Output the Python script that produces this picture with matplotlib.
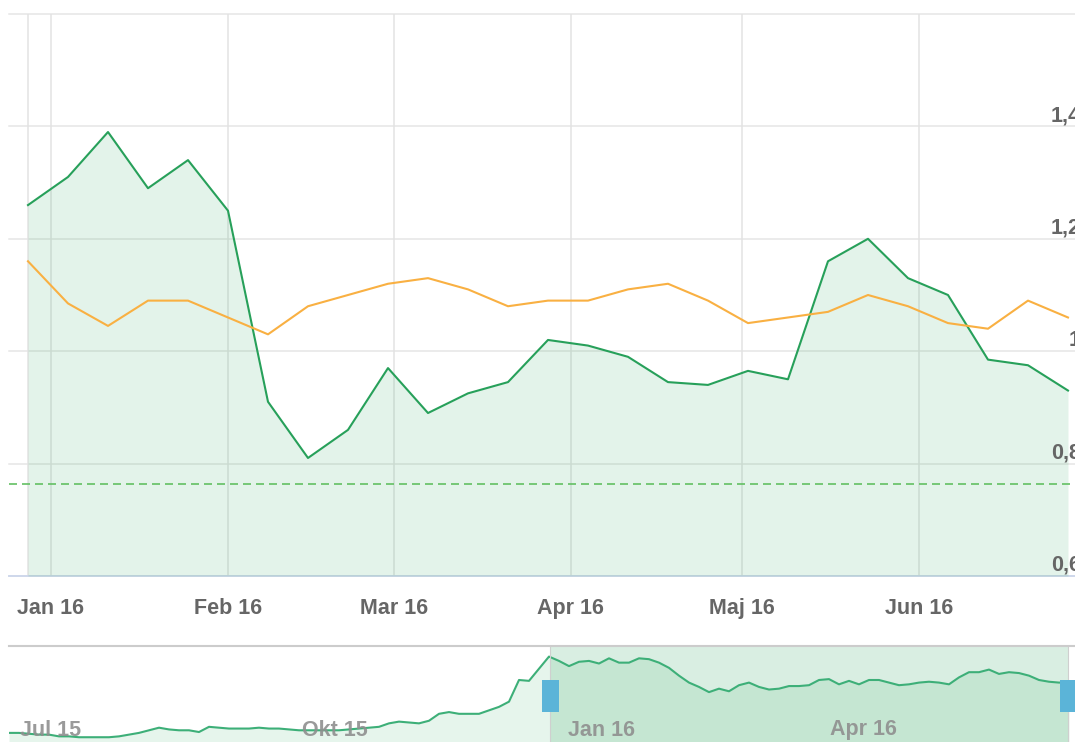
import numpy as np
import pandas as pd
import matplotlib
matplotlib.use('Agg')
import matplotlib.pyplot as plt
import matplotlib.dates as mdates
import matplotlib.transforms as mtransforms
from matplotlib.patches import Rectangle

plt.rcParams['font.family'] = ['Liberation Sans', 'DejaVu Sans']

# weekly series, main chart
weeks = pd.date_range('2015-12-28', periods=27, freq='7D')
green = [1.26, 1.31, 1.39, 1.29, 1.34, 1.25, 0.91, 0.81, 0.86, 0.97,
         0.89, 0.925, 0.945, 1.02, 1.01, 0.99, 0.945, 0.94, 0.965, 0.95,
         1.16, 1.20, 1.13, 1.10, 0.985, 0.975, 0.93]
orange = [1.16, 1.085, 1.045, 1.09, 1.09, 1.06, 1.03, 1.08, 1.10, 1.12,
          1.13, 1.11, 1.08, 1.09, 1.09, 1.11, 1.12, 1.09, 1.05, 1.06,
          1.07, 1.10, 1.08, 1.05, 1.04, 1.09, 1.06]
ref_level = 0.764

month_ticks = pd.to_datetime(['2016-01-01', '2016-02-01', '2016-03-01',
                              '2016-04-01', '2016-05-01', '2016-06-01'])
month_labels = ['Jan 16', 'Feb 16', 'Mar 16', 'Apr 16', 'Maj 16', 'Jun 16']
y_ticks = [0.6, 0.8, 1.0, 1.2, 1.4, 1.6]
y_labels = ['0,6', '0,8', '1', '1,2', '1,4', '']

# navigator (whole history, trading-day ordinal axis)
nav_values = [0.35, 0.35, 0.34, 0.33, 0.33, 0.31, 0.31, 0.30, 0.30, 0.30,
              0.30, 0.31, 0.33, 0.35, 0.38, 0.41, 0.39, 0.38, 0.38, 0.36,
              0.42, 0.41, 0.40, 0.40, 0.40, 0.41, 0.40, 0.40, 0.39, 0.38,
              0.38, 0.38, 0.38, 0.38, 0.39, 0.40, 0.41, 0.42, 0.46, 0.48,
              0.47, 0.46, 0.49, 0.57, 0.59, 0.57, 0.57, 0.57, 0.61, 0.65,
              0.71, 0.96, 0.95, 1.09, 1.23, 1.18, 1.12, 1.17, 1.18, 1.15,
              1.21, 1.16, 1.16, 1.21, 1.20, 1.16, 1.10, 1.01, 0.93, 0.88,
              0.82, 0.86, 0.83, 0.90, 0.93, 0.88, 0.85, 0.86, 0.89, 0.89,
              0.90, 0.96, 0.97, 0.91, 0.95, 0.91, 0.96, 0.96, 0.93, 0.90,
              0.91, 0.93, 0.94, 0.93, 0.91, 0.99, 1.05, 1.05, 1.08, 1.03,
              1.05, 1.04, 1.01, 0.96, 0.94, 0.93, 0.93]
nav_tick_pos = [1.1, 29.3, 55.9, 82.1]
nav_tick_labels = ['Jul 15', 'Okt 15', 'Jan 16', 'Apr 16']
nav_sel = (54.1, 105.9)

W, H = 1075, 742
fig = plt.figure(figsize=(W / 100, H / 100), dpi=100)

# ---- main chart ----
left_px, top_px, bot_px = 9, 14, 576
ax = fig.add_axes([left_px / W, (H - bot_px) / H, (W - left_px) / W, (bot_px - top_px) / H])
px_per_day = 40 / 7
x0 = mdates.date2num(weeks[0])
ax.set_xlim(x0 - (28 - left_px) / px_per_day, x0 + (W - 28) / px_per_day)
ax.set_ylim(0.6, 1.6)
for s in ax.spines.values():
    s.set_visible(False)

for v in y_ticks:
    ax.axhline(v, color='#e6e6e6', lw=1.1, zorder=0, clip_on=False)
for d in list(month_ticks) + [weeks[0]]:
    ax.axvline(d, color='#e3e3e3', lw=1.1, zorder=0)
ax.axhline(0.6, color='#ccd6eb', lw=1.3, zorder=1, clip_on=False)

ax.fill_between(weeks, green, 0.6, color='#2ea85e', alpha=0.13, lw=0, zorder=2)
ax.plot(weeks, green, color='#27a05a', lw=1.5, zorder=4)
ax.plot(weeks, orange, color='#f9b042', lw=1.5, zorder=5)
ax.axhline(ref_level, color='#63c063', lw=1.2, dashes=(4.8, 3.0), zorder=3)

ax.set_xticks(month_ticks)
ax.set_xticklabels(month_labels, fontsize=15.5, fontweight='bold', color='#666666')
ax.tick_params(axis='x', length=0, pad=16)
ax.set_yticks([])

# y labels sit on the right edge, partly cut off as in the source screenshot
off = mtransforms.ScaledTranslation(0, 5 / 100, fig.dpi_scale_trans)
ytrans = ax.get_yaxis_transform() + off
for v, lab in zip(y_ticks, y_labels):
    ax.text((1081 - left_px) / (W - left_px), v, lab, transform=ytrans,
            ha='right', va='baseline', fontsize=15.5, fontweight='bold',
            color='#666666', clip_on=False)

# ---- navigator ----
nav_top = 646
axn = fig.add_axes([left_px / W, 0, (W - left_px) / W, (H - nav_top) / H])
nav_x = np.arange(len(nav_values))
axn.set_xlim(0, (W - left_px) / 10)
axn.set_ylim(0.245, 1.352)
for s in axn.spines.values():
    s.set_visible(False)
axn.set_xticks([])
axn.set_yticks([])

axn.fill_between(nav_x, nav_values, 0, color='#e6f5ec', lw=0, zorder=1)
axn.axvspan(nav_sel[0], nav_sel[1], color='#41aa6e', alpha=0.2, lw=0, zorder=2)
axn.plot(nav_x, nav_values, color='#3daf78', lw=1.5, zorder=3)
axn.axhline(1.352, color='#cccccc', lw=1.5, zorder=4, clip_on=False)
for xs in nav_sel:
    axn.axvline(xs, color='#cfcfcf', lw=0.8, zorder=3)

btrans = mtransforms.blended_transform_factory(axn.transData, axn.transAxes)
for xs in nav_sel:
    axn.add_patch(Rectangle((xs - 0.85, 30 / 96), 1.7, 32 / 96, transform=btrans,
                            facecolor='#5bb4d8', edgecolor='none', zorder=6,
                            clip_on=False))

for xp, lab in zip(nav_tick_pos, nav_tick_labels):
    axn.text(xp, 12 / 96, lab, transform=btrans, ha='left', va='center',
             fontsize=15.5, fontweight='bold', color='#8f8f8f', alpha=0.9,
             zorder=5)

fig.savefig('out.png', dpi=100)
